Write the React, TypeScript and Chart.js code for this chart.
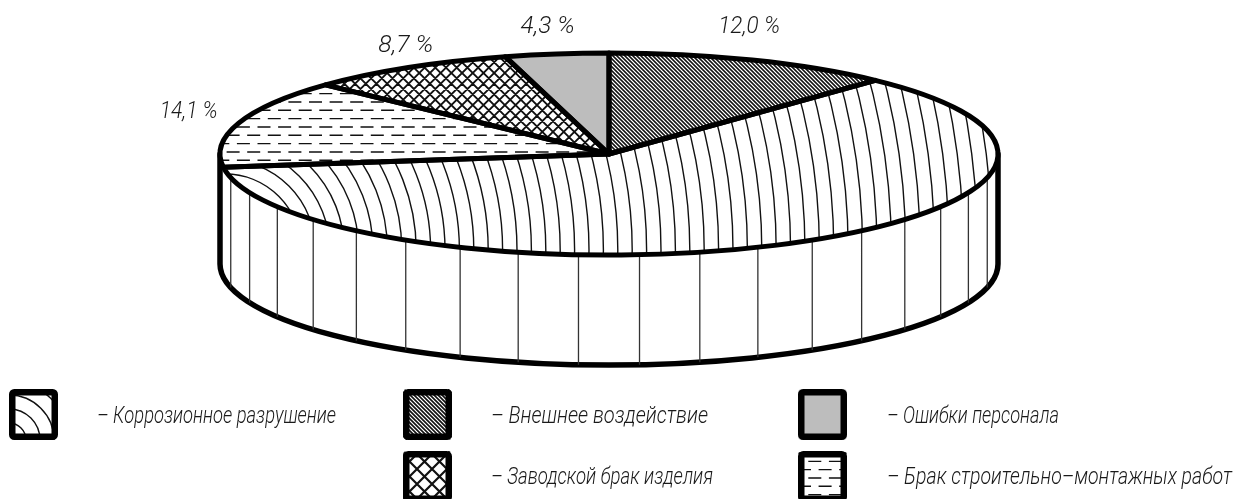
import React, { useEffect, useRef } from "react";
import { Chart, registerables } from "chart.js";

Chart.register(...registerables);

// Share of each failure cause, percent, clockwise from twelve o'clock.
const causes = [
  "Внешнее воздействие",
  "Коррозионное разрушение",
  "Брак строительно–монтажных работ",
  "Заводской брак изделия",
  "Ошибки персонала",
];
const shares = [12.0, 60.9, 14.1, 8.7, 4.3];
const hatchKinds = ["dense", "rings", "dashes", "cross", "grey"];

// Percent captions: [dx, dy, width]; the large slice carries none.
const captionLayout: ([number, number, number] | null)[] = [
  [-3, -27, 62],
  null,
  [-50, -5, 58],
  [-2, -16, 55],
  [-9, -21, 54],
];

// Legend placement: [slice index, swatch left, swatch top, text left, baseline, text right].
const legendSlots = [
  [1, 9, 389, 97, 423, 336],
  [0, 403, 389, 491, 423, 708],
  [4, 798, 389, 887, 423, 1059],
  [3, 403, 451, 491, 484, 713],
  [2, 798, 451, 887, 484, 1232],
];

// Wall ribs, degrees either side of the front of the drum.
const wallRibDegrees = [4.5, 13.5, 22.5, 31.5, 40.5, 49.5, 58.5, 67.5, 76.5];

const WIDTH = 1235;
const HEIGHT = 499;
const CX = 609;
const CY = 154;
const RX = 389;
const RY = 101;
const DEPTH = 110;
const CAPTION_FONT = 'italic 300 23px Roboto, "Liberation Sans", sans-serif';
const LEGEND_FONT = 'italic 300 24px Roboto, "Liberation Sans", sans-serif';

function paintHatch(
  g: CanvasRenderingContext2D,
  kind: string,
  x: number,
  y: number,
  w: number,
  h: number,
  large: boolean,
) {
  g.save();
  g.fillStyle = "#fff";
  g.fillRect(x, y, w, h);
  g.strokeStyle = "#111";
  if (kind === "grey") {
    g.fillStyle = "#bdbdbd";
    g.fillRect(x, y, w, h);
  } else if (kind === "dense") {
    const step = 4;
    g.lineWidth = 1.7;
    g.beginPath();
    for (let c = x - h; c < x + w; c += step) {
      g.moveTo(c, y);
      g.lineTo(c + h, y + h);
    }
    g.stroke();
  } else if (kind === "cross") {
    const step = large ? 10.7 : 15;
    g.lineWidth = large ? 1.8 : 2.2;
    g.beginPath();
    for (let c = x - h - (x % step); c < x + w; c += step) {
      g.moveTo(c, y);
      g.lineTo(c + h, y + h);
      g.moveTo(c + h, y);
      g.lineTo(c, y + h);
    }
    g.stroke();
  } else if (kind === "dashes") {
    g.lineWidth = 1.4;
    const rowStep = 8.33;
    const period = 20.6;
    let row = 0;
    g.beginPath();
    for (let yy = y + 2; yy < y + h; yy += rowStep) {
      const shift = row % 2 ? period / 2 : 0;
      for (let xx = x - period + shift; xx < x + w; xx += period) {
        g.moveTo(xx, yy);
        g.lineTo(xx + 13, yy);
      }
      row += 1;
    }
    g.stroke();
  } else if (kind === "rings") {
    g.lineWidth = 1.4;
    const ox = large ? 225 : x;
    const oy = large ? 250 : y + h;
    const first = large ? 76 : 17;
    const step = large ? 14.4 : 14;
    const last = Math.hypot(w, h) + 20;
    for (let r = first; r < last; r += step) {
      g.beginPath();
      g.arc(ox, oy, r, 0, Math.PI * 2);
      g.stroke();
    }
  }
  g.restore();
}

function makePattern(ctx: CanvasRenderingContext2D, kind: string) {
  const tile = document.createElement("canvas");
  tile.width = WIDTH;
  tile.height = HEIGHT;
  paintHatch(tile.getContext("2d")!, kind, 0, 0, WIDTH, HEIGHT, true);
  return ctx.createPattern(tile, "no-repeat")!;
}

// Squeezes a line of text horizontally so it spans exactly the given width.
function fitText(ctx: CanvasRenderingContext2D, text: string, left: number, baseline: number, width: number) {
  const natural = ctx.measureText(text).width;
  ctx.save();
  ctx.translate(left, baseline);
  ctx.scale(width / natural, 1);
  ctx.fillText(text, 0, 0);
  ctx.restore();
}

// The library draws a flat round pie; this plugin tilts it into an ellipse,
// puts the drum wall behind it and adds outlines of constant width.
const drumPlugin = {
  id: "drum",
  beforeDatasetsDraw(chart: any) {
    const ctx: CanvasRenderingContext2D = chart.ctx;
    const meta = chart.getDatasetMeta(0);
    const first = meta.data[0];
    const sx = RX / first.outerRadius;
    const sy = RY / first.outerRadius;

    ctx.save();
    ctx.fillStyle = "#fff";
    ctx.strokeStyle = "#000";
    ctx.lineWidth = 5.5;
    ctx.lineJoin = "round";
    ctx.beginPath();
    ctx.moveTo(CX - RX, CY);
    ctx.lineTo(CX - RX, CY + DEPTH);
    ctx.ellipse(CX, CY + DEPTH, RX, RY, 0, Math.PI, 0, true);
    ctx.lineTo(CX + RX, CY);
    ctx.closePath();
    ctx.fill();
    ctx.stroke();
    ctx.lineWidth = 1.3;
    ctx.strokeStyle = "#333";
    ctx.beginPath();
    for (const deg of wallRibDegrees) {
      for (const side of [-1, 1]) {
        const a = (deg * Math.PI) / 180;
        const px = CX + side * RX * Math.sin(a);
        const py = CY + RY * Math.cos(a);
        ctx.moveTo(px, py);
        ctx.lineTo(px, py + DEPTH);
      }
    }
    ctx.stroke();
    ctx.restore();

    ctx.save();
    const tilt = new DOMMatrix()
      .translate(CX, CY)
      .scale(sx, sy)
      .translate(-first.x, -first.y);
    ctx.setTransform(tilt);
    const inverse = tilt.inverse();
    for (const p of chart.data.datasets[0].backgroundColor) {
      if (p instanceof CanvasPattern) p.setTransform(inverse);
    }
  },
  afterDatasetsDraw(chart: any) {
    const ctx: CanvasRenderingContext2D = chart.ctx;
    ctx.restore();
    const meta = chart.getDatasetMeta(0);

    ctx.save();
    ctx.strokeStyle = "#000";
    ctx.lineWidth = 5;
    ctx.lineJoin = "round";
    meta.data.forEach((arc: any) => {
      ctx.beginPath();
      ctx.moveTo(CX, CY);
      ctx.ellipse(CX, CY, RX, RY, 0, arc.startAngle, arc.endAngle);
      ctx.closePath();
      ctx.stroke();
    });

    ctx.fillStyle = "#1a1a1a";
    ctx.textBaseline = "alphabetic";
    ctx.textAlign = "left";
    ctx.font = CAPTION_FONT;
    meta.data.forEach((arc: any, i: number) => {
      const layout = captionLayout[i];
      if (!layout) return;
      const mid = (arc.startAngle + arc.endAngle) / 2;
      const text = `${shares[i].toFixed(1).replace(".", ",")} %`;
      const centre = CX + RX * Math.cos(mid) + layout[0];
      fitText(ctx, text, centre - layout[2] / 2, CY + RY * Math.sin(mid) + layout[1], layout[2]);
    });

    ctx.font = LEGEND_FONT;
    for (const [index, left, top, textLeft, baseline, textRight] of legendSlots) {
      const size = 49;
      const tall = 51;
      ctx.save();
      ctx.beginPath();
      ctx.roundRect(left, top, size, tall, 4);
      ctx.clip();
      paintHatch(ctx, hatchKinds[index], left, top, size, tall, false);
      ctx.restore();
      ctx.save();
      ctx.lineWidth = 6.5;
      ctx.strokeStyle = "#000";
      ctx.beginPath();
      ctx.roundRect(left + 3.25, top + 3.25, size - 6.5, tall - 6.5, 2);
      ctx.stroke();
      ctx.restore();
      fitText(ctx, `– ${causes[index]}`, textLeft, baseline, textRight - textLeft);
    }
    ctx.restore();
  },
};

export default function App() {
  const ref = useRef<HTMLCanvasElement>(null);

  useEffect(() => {
    document.body.style.margin = "0";
    document.body.style.background = "#fff";
    const ctx = ref.current!.getContext("2d")!;
    const fills = hatchKinds.map((kind) =>
      kind === "grey" ? "#bdbdbd" : makePattern(ctx, kind),
    );
    const chart = new Chart(ctx, {
      type: "pie",
      data: {
        labels: causes,
        datasets: [
          {
            data: shares,
            backgroundColor: fills as any,
            borderWidth: 0,
            clip: false as any,
          },
        ],
      },
      options: {
        responsive: false,
        animation: false,
        layout: { padding: { left: 0, right: 17, top: 0, bottom: 191 } },
        plugins: { legend: { display: false }, tooltip: { enabled: false } },
      },
      plugins: [drumPlugin],
    });
    return () => chart.destroy();
  }, []);

  return <canvas ref={ref} width={WIDTH} height={HEIGHT} style={{ display: "block" }} />;
}
